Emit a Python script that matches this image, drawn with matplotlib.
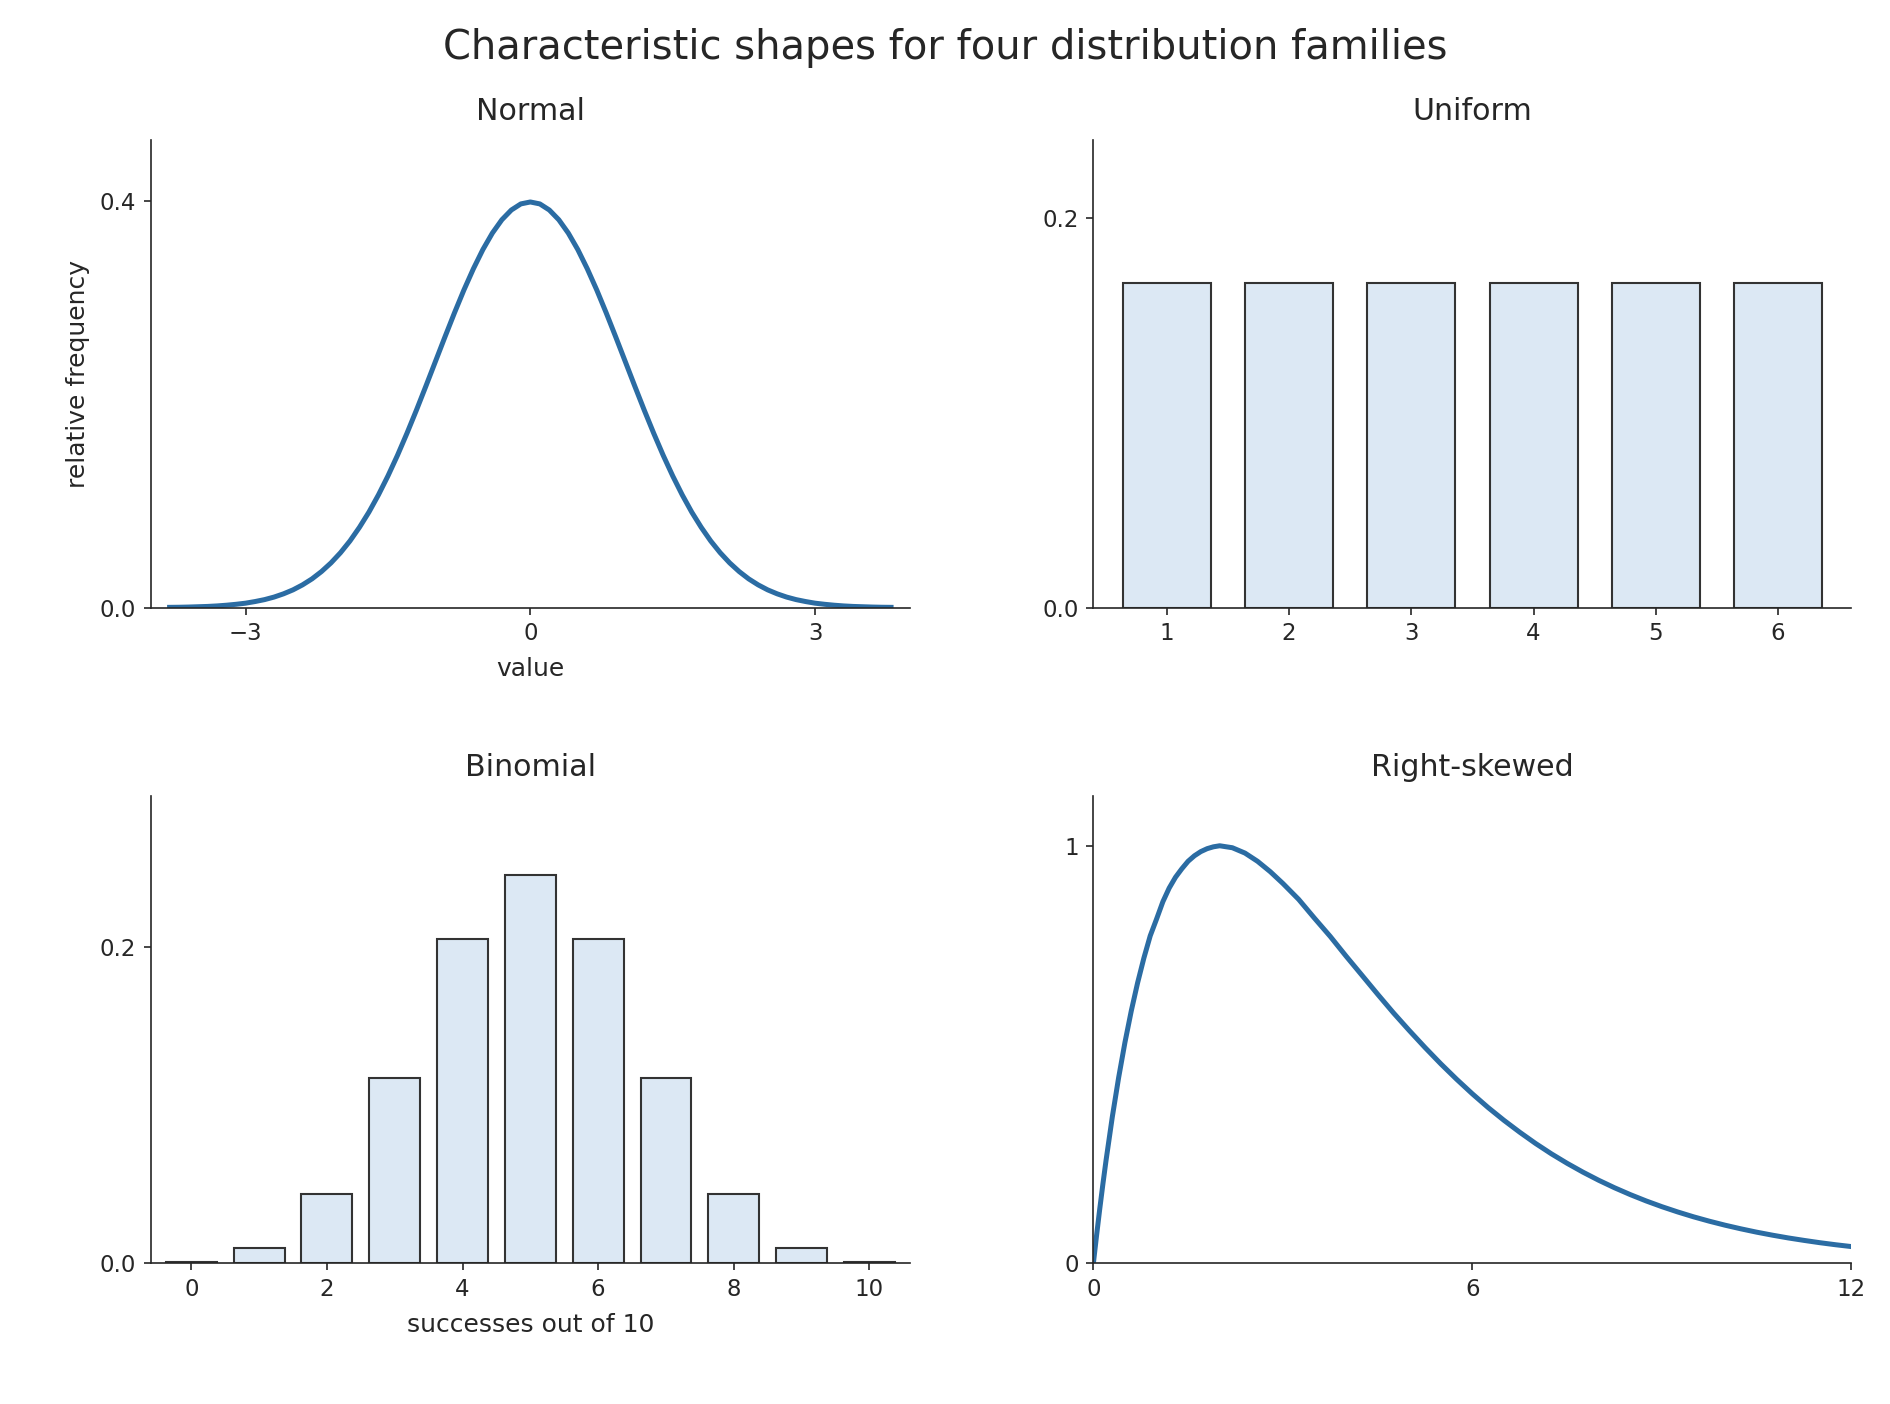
import matplotlib
matplotlib.use("Agg")
import matplotlib.pyplot as plt

# values
normal_x = [-3.8, -3.7, -3.6, -3.5, -3.4, -3.3, -3.2, -3.1, -3.0, -2.9,
            -2.8, -2.7, -2.6, -2.5, -2.4, -2.3, -2.2, -2.1, -2.0, -1.9,
            -1.8, -1.7, -1.6, -1.5, -1.4, -1.3, -1.2, -1.1, -1.0, -0.9,
            -0.8, -0.7, -0.6, -0.5, -0.4, -0.3, -0.2, -0.1, 0.0,
            0.1, 0.2, 0.3, 0.4, 0.5, 0.6, 0.7, 0.8, 0.9, 1.0,
            1.1, 1.2, 1.3, 1.4, 1.5, 1.6, 1.7, 1.8, 1.9, 2.0,
            2.1, 2.2, 2.3, 2.4, 2.5, 2.6, 2.7, 2.8, 2.9, 3.0,
            3.1, 3.2, 3.3, 3.4, 3.5, 3.6, 3.7, 3.8]
normal_y = [0.0003, 0.0004, 0.0006, 0.0009, 0.0012, 0.0017, 0.0024, 0.0033, 0.0044, 0.0060,
            0.0079, 0.0104, 0.0136, 0.0175, 0.0224, 0.0283, 0.0355, 0.0440, 0.0540, 0.0656,
            0.0790, 0.0940, 0.1109, 0.1295, 0.1497, 0.1714, 0.1942, 0.2179, 0.2420, 0.2661,
            0.2897, 0.3123, 0.3332, 0.3521, 0.3683, 0.3814, 0.3910, 0.3970, 0.3989,
            0.3970, 0.3910, 0.3814, 0.3683, 0.3521, 0.3332, 0.3123, 0.2897, 0.2661, 0.2420,
            0.2179, 0.1942, 0.1714, 0.1497, 0.1295, 0.1109, 0.0940, 0.0790, 0.0656, 0.0540,
            0.0440, 0.0355, 0.0283, 0.0224, 0.0175, 0.0136, 0.0104, 0.0079, 0.0060, 0.0044,
            0.0033, 0.0024, 0.0017, 0.0012, 0.0009, 0.0006, 0.0004, 0.0003]

uniform_x = [1, 2, 3, 4, 5, 6]
uniform_y = [0.1667, 0.1667, 0.1667, 0.1667, 0.1667, 0.1667]

binom_x = [0, 1, 2, 3, 4, 5, 6, 7, 8, 9, 10]
binom_y = [0.0010, 0.0098, 0.0439, 0.1172, 0.2051, 0.2461, 0.2051, 0.1172, 0.0439, 0.0098, 0.0010]

skew_x = [0.0, 0.05, 0.1, 0.15, 0.2, 0.3, 0.4, 0.5, 0.6, 0.7, 0.8, 0.9, 1.0,
          1.1, 1.2, 1.3, 1.4, 1.5, 1.6, 1.7, 1.8, 1.9, 2.0,
          2.2, 2.4, 2.6, 2.8, 3.0, 3.25, 3.5, 3.75, 4.0, 4.25, 4.5, 4.75, 5.0,
          5.25, 5.5, 5.75, 6.0, 6.25, 6.5, 6.75, 7.0, 7.25, 7.5, 7.75, 8.0,
          8.25, 8.5, 8.75, 9.0, 9.25, 9.5, 9.75, 10.0, 10.25, 10.5, 10.75, 11.0,
          11.25, 11.5, 11.75, 12.0]
skew_y = [0.0, 0.0663, 0.1293, 0.1892, 0.2460, 0.3510, 0.4449, 0.5293, 0.6046, 0.6717,
          0.7314, 0.7844, 0.8244, 0.8660, 0.8987, 0.9246, 0.9449, 0.9630, 0.9761, 0.9860,
          0.9930, 0.9975, 1.0,
          0.9953, 0.9825, 0.9627, 0.9380, 0.9098, 0.8716, 0.8266, 0.7829, 0.7358, 0.6903,
          0.6446, 0.6000, 0.5578, 0.5170, 0.4779, 0.4410, 0.4060, 0.3731, 0.3426, 0.3141,
          0.2873, 0.2625, 0.2397, 0.2186, 0.1991, 0.1812, 0.1648, 0.1497, 0.1359, 0.1233,
          0.1117, 0.1012, 0.0916, 0.0829, 0.0749, 0.0677, 0.0611, 0.0552, 0.0497, 0.0448,
          0.0404]

LINE = "#2b6ca3"
BAR_FACE = "#dce8f4"
BAR_EDGE = "#333333"
INK = "#262626"

plt.rcParams.update({
    "font.family": "DejaVu Sans",
    "text.color": INK,
    "axes.labelcolor": INK,
    "axes.edgecolor": INK,
    "xtick.color": INK,
    "ytick.color": INK,
    "xtick.labelsize": 11,
    "ytick.labelsize": 11,
    "axes.labelsize": 12,
    "axes.titlesize": 14.4,
    "axes.titlepad": 9.5,
    "axes.labelpad": 5.5,
    "axes.linewidth": 0.8,
    "xtick.major.size": 3.5,
    "ytick.major.size": 3.5,
})

fig = plt.figure(figsize=(12.6, 9.36), dpi=150)
ax_n = fig.add_axes([0.0797, 0.5672, 0.4018, 0.3332])
ax_u = fig.add_axes([0.5785, 0.5672, 0.4011, 0.3332])
ax_b = fig.add_axes([0.0797, 0.1001, 0.4018, 0.3332])
ax_s = fig.add_axes([0.5785, 0.1001, 0.4011, 0.3332])

for ax in (ax_n, ax_u, ax_b, ax_s):
    ax.spines["top"].set_visible(False)
    ax.spines["right"].set_visible(False)

# Normal
ax_n.plot(normal_x, normal_y, color=LINE, linewidth=2.4)
ax_n.set_xlim(-4.0, 4.0)
ax_n.set_ylim(0, 0.46)
ax_n.set_xticks([-3, 0, 3])
ax_n.set_xticklabels(["\u22123", "0", "3"])
ax_n.set_yticks([0, 0.4])
ax_n.set_yticklabels(["0.0", "0.4"])
ax_n.set_title("Normal")
ax_n.set_xlabel("value")
ax_n.set_ylabel("relative frequency", labelpad=4.5)

# Uniform
ax_u.bar(uniform_x, uniform_y, width=0.72, color=BAR_FACE, edgecolor=BAR_EDGE, linewidth=1.0)
ax_u.set_xlim(0.4, 6.6)
ax_u.set_ylim(0, 0.24)
ax_u.set_xticks(uniform_x)
ax_u.set_yticks([0, 0.2])
ax_u.set_yticklabels(["0.0", "0.2"])
ax_u.set_title("Uniform")

# Binomial
ax_b.bar(binom_x, binom_y, width=0.75, color=BAR_FACE, edgecolor=BAR_EDGE, linewidth=1.0)
ax_b.set_xlim(-0.6, 10.6)
ax_b.set_ylim(0, 0.296)
ax_b.set_xticks([0, 2, 4, 6, 8, 10])
ax_b.set_yticks([0, 0.2])
ax_b.set_yticklabels(["0.0", "0.2"])
ax_b.set_title("Binomial")
ax_b.set_xlabel("successes out of 10")

# Right-skewed
ax_s.plot(skew_x, skew_y, color=LINE, linewidth=2.4)
ax_s.set_xlim(0, 12)
ax_s.set_ylim(0, 1.12)
ax_s.set_xticks([0, 6, 12])
ax_s.set_yticks([0, 1])
ax_s.set_title("Right-skewed")

fig.suptitle("Characteristic shapes for four distribution families", fontsize=19.2, y=0.98)

fig.savefig("out.png", dpi=150)
